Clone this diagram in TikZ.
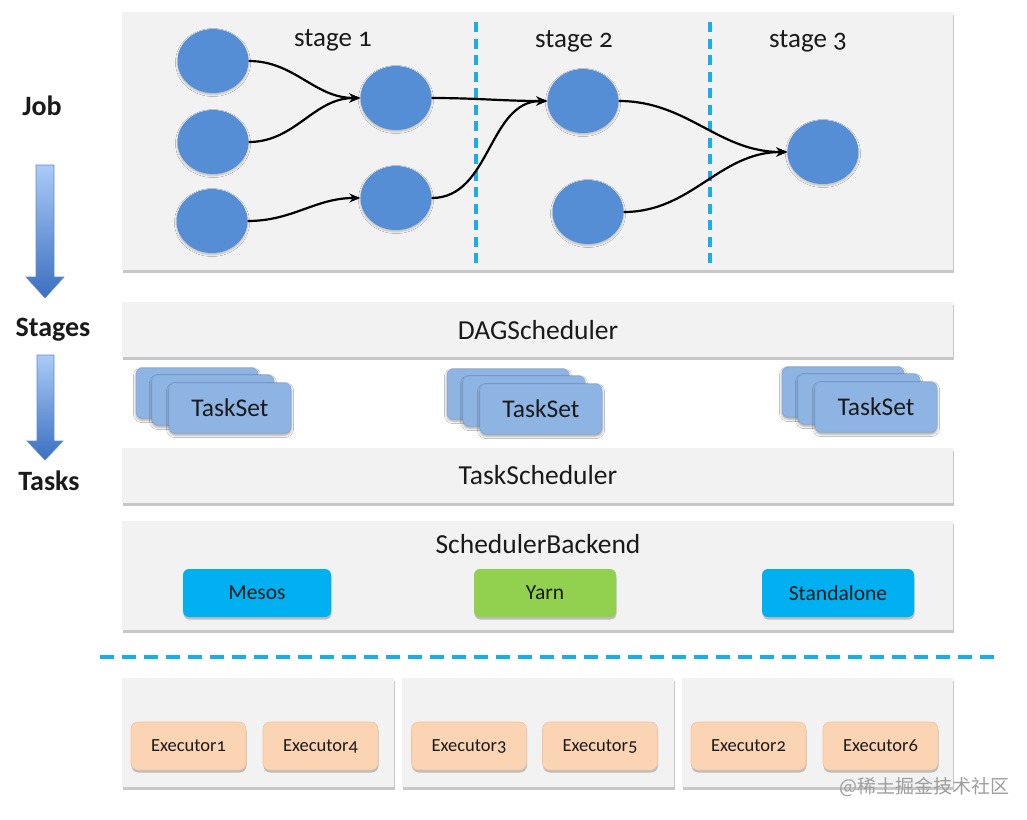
\documentclass[tikz,border=0pt]{standalone}
\usepackage{fontspec}
\setmainfont{Carlito}
\newfontfamily\osf[Numbers=OldStyle]{Carlito}
\newfontfamily\cjk{Noto Sans CJK SC}
\usetikzlibrary{arrows.meta,shadows,shadows.blur,shapes.geometric}
\definecolor{panel}{HTML}{F2F2F2}
\definecolor{ball}{HTML}{558ED5}
\definecolor{dashblue}{HTML}{1AAEE5}
\definecolor{cyanbox}{HTML}{00B0F0}
\definecolor{greenbox}{HTML}{92D050}
\definecolor{card}{HTML}{8EB4E3}
\definecolor{cardline}{HTML}{7EA6DA}
\definecolor{peach}{HTML}{FBD4B4}
\definecolor{peachline}{HTML}{F0C59E}
\definecolor{txt}{HTML}{1A1A1A}
\definecolor{arrowtop}{HTML}{ABCBF6}
\definecolor{arrowbot}{HTML}{3A6FC0}
\begin{document}
\begin{tikzpicture}[x=1pt,y=-1pt,
  shad/.style={drop shadow={shadow xshift=0.5pt,shadow yshift=-2.5pt,fill=black,opacity=0.22}},
  cardshad/.style={blur shadow={shadow xshift=0pt,shadow yshift=-2pt,shadow blur radius=2.5pt,shadow opacity=40}},
  panelbox/.style={fill=panel,shad,inner sep=0pt,anchor=north west},
  ball/.style={ellipse,fill=ball,minimum width=71pt,minimum height=64pt,inner sep=0pt,
     blur shadow={shadow xshift=0pt,shadow yshift=-1.5pt,shadow blur radius=2pt,shadow opacity=25}},
  edge/.style={line width=2.2pt,black,-{Stealth[length=11pt,width=9pt]}},
  vdash/.style={dashblue,line width=3.4pt,dash pattern=on 10pt off 6.5pt},
  hdash/.style={dashblue,line width=3.8pt,dash pattern=on 14pt off 8pt},
  stagelbl/.style={text=txt,font=\osf\fontsize{27}{30}\selectfont},
  barlbl/.style={text=txt,font=\fontsize{27.5}{30}\selectfont},
  sidelbl/.style={text=txt,font=\bfseries\fontsize{28}{31}\selectfont},
  card/.style={rounded corners=6pt,fill=card,draw=cardline,line width=0.5pt,minimum width=122pt,minimum height=50pt,inner sep=0pt,
     text=txt,font=\fontsize{25.5}{28}\selectfont,cardshad},
  rm/.style={rounded corners=6pt,minimum height=48pt,inner sep=0pt,text=txt,
     font=\fontsize{21.5}{24}\selectfont,shad},
  execbox/.style={rounded corners=7pt,fill=peach,draw=peachline,line width=0.6pt,minimum width=115pt,
     minimum height=48pt,inner sep=0pt,text=txt,font=\osf\fontsize{18.5}{21}\selectfont,shad},
  sidearrow/.style={top color=arrowtop,bottom color=arrowbot,draw=arrowbot!80,line width=0.6pt}
]
\fill[white] (0,0) rectangle (1027,819);
\useasboundingbox (0,0) rectangle (1027,819);

% ---------- Job panel ----------
\node[panelbox,minimum width=831pt,minimum height=258pt] (jobpanel) at (122,12) {};
\draw[vdash] (476,22) -- (476,263);
\draw[vdash] (710,22) -- (710,263);
\node[stagelbl] (s1) at (333,40) {stage 1};
\node[stagelbl] (s2) at (574,41) {stage 2};
\node[stagelbl] (s3) at (808,41) {stage 3};

\node[ball] (a1) at (213,61) {};
\node[ball] (a2) at (213,142) {};
\node[ball] (a3) at (212,221) {};
\node[ball] (b1) at (396,98) {};
\node[ball] (b2) at (396,198) {};
\node[ball] (c1) at (583,101) {};
\node[ball] (c2) at (588,212) {};
\node[ball] (d1) at (823,152) {};

\draw[edge] (a1.east) to[out=0,in=180] (b1.west);
\draw[edge] (a2.east) to[out=0,in=180] (b1.west);
\draw[edge] (a3.east) to[out=0,in=180] (b2.west);
\draw[edge] (b1.east) to[out=0,in=180] (c1.west);
\draw[edge] (b2.east) to[out=0,in=180] (c1.west);
\draw[edge] (c1.east) to[out=0,in=180] (d1.west);
\draw[edge] (c2.east) to[out=0,in=180] (d1.west);

% ---------- side labels and arrows ----------
\node[sidelbl] (job) at (42,106) {Job};
\node[sidelbl] (stages) at (53,330) {Stages};
\node[sidelbl] (tasks) at (49,481) {Tasks};
\path[sidearrow] (36,165) -- (54,165) -- (54,277) -- (64,277) -- (45,298) -- (26,277) -- (36,277) -- cycle;
\path[sidearrow] (37,355) -- (54,355) -- (54,441) -- (63,441) -- (45,460) -- (27,441) -- (37,441) -- cycle;

% ---------- DAGScheduler ----------
\node[panelbox,minimum width=831pt,minimum height=55pt] (dag) at (122,302) {};
\node[barlbl] (dagt) at (538,330) {DAGScheduler};

% ---------- TaskSets ----------
\node[card] (t1c) at (197,393) {};
\node[card] (t1b) at (213,400) {};
\node[card] (t1a) at (230,408) {TaskSet};
\node[card] (t2c) at (508,394) {};
\node[card] (t2b) at (524,401) {};
\node[card] (t2a) at (541,409) {TaskSet};
\node[card] (t3c) at (843,392) {};
\node[card] (t3b) at (859,399) {};
\node[card] (t3a) at (876,407) {TaskSet};

% ---------- TaskScheduler ----------
\node[panelbox,minimum width=831pt,minimum height=55pt] (ts) at (122,448) {};
\node[barlbl] (tst) at (538,475) {TaskScheduler};

% ---------- SchedulerBackend ----------
\node[panelbox,minimum width=831pt,minimum height=109pt] (sb) at (122,521) {};
\node[barlbl] (sbt) at (538,544) {SchedulerBackend};
\node[rm,fill=cyanbox,minimum width=148pt] (mesos) at (257,593) {Mesos};
\node[rm,fill=greenbox,minimum width=142pt] (yarn) at (545,593) {Yarn};
\node[rm,fill=cyanbox,minimum width=152pt] (standalone) at (838,593) {Standalone};

\draw[hdash] (100,657) -- (996,657);

% ---------- Executors ----------
\node[panelbox,minimum width=272pt,minimum height=109pt] (w1) at (122,678) {};
\node[panelbox,minimum width=272pt,minimum height=109pt] (w2) at (402,678) {};
\node[panelbox,minimum width=271pt,minimum height=109pt] (w3) at (682,678) {};
\node[execbox] (e1) at (188.5,746) {Executor1};
\node[execbox] (e4) at (320.5,746) {Executor4};
\node[execbox] (e3) at (469,746) {Executor3};
\node[execbox] (e5) at (600,746) {Executor5};
\node[execbox] (e2) at (748.5,746) {Executor2};
\node[execbox] (e6) at (880.5,746) {Executor6};

\node[text=black!38,font=\cjk\fontsize{19}{22}\selectfont] (wm) at (924,787) {@稀土掘金技术社区};
\end{tikzpicture}
\end{document}
